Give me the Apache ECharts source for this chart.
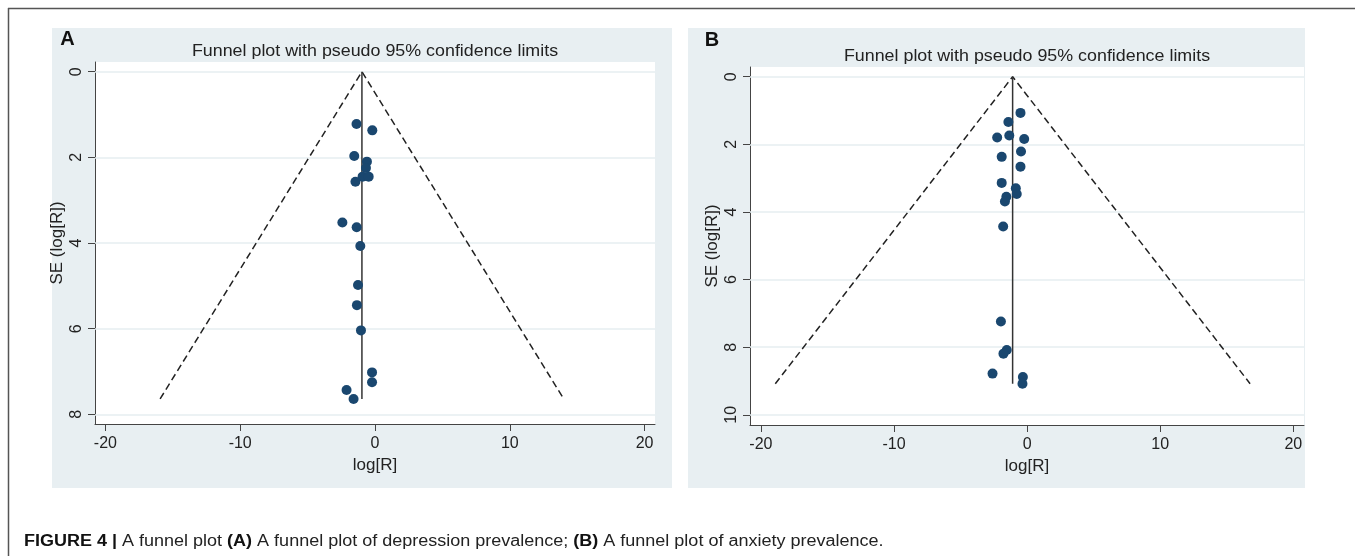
<!DOCTYPE html>
<html>
<head>
<meta charset="utf-8">
<script src="https://cdn.jsdelivr.net/npm/echarts@6/dist/echarts.min.js"></script>
<style>
html,body{margin:0;padding:0;background:#fff;}
#chart{width:1355px;height:556px;}
</style>
</head>
<body>
<div id="chart"></div>
<script>
// ---- Data ----
// Panel A: depression prevalence
const logRA = [-1.37, -0.20, -1.54, -0.60, -0.67, -0.92, -0.47, -1.45, -2.42, -1.36, -1.09, -1.26, -1.34, -1.04, -0.22, -0.22, -2.11, -1.59];
const seA   = [1.22, 1.37, 1.97, 2.10, 2.25, 2.45, 2.45, 2.57, 3.52, 3.63, 4.07, 4.98, 5.45, 6.04, 7.02, 7.25, 7.43, 7.64];
const pooledA = -0.97;      // vertical line
const seMaxA = 7.64;        // bottom of funnel
const limitA = [-15.94, 14.00]; // pseudo 95% limits at seMaxA

// Panel B: anxiety prevalence
const logRB = [-0.50, -1.41, -2.25, -1.34, -0.22, -0.46, -1.91, -0.50, -1.91, -0.85, -0.78, -1.56, -1.67, -1.80, -1.97, -1.53, -1.78, -2.60, -0.32, -0.35];
const seB   = [1.07, 1.34, 1.80, 1.74, 1.84, 2.21, 2.37, 2.66, 3.14, 3.30, 3.47, 3.55, 3.69, 4.43, 7.24, 8.08, 8.19, 8.78, 8.88, 9.08];
const pooledB = -1.09;
const seMaxB = 9.08;
const limitB = [-18.92, 16.75];

// Tick labels
const xTicks = [-20, -10, 0, 10, 20];
const yTicksA = [0, 2, 4, 6, 8];
const yTicksB = [0, 2, 4, 6, 8, 10];

// ---- Styles ----
const FONT = 'Liberation Sans, Arial, sans-serif';
const NAVY = '#1A476F';
const PANEL_BG = '#E8EFF2';
const GRID_LINE = '#E6EEF1';
const AXIS = '#444';
const TXT = '#222';

const chart = echarts.init(document.getElementById('chart'), null, {renderer: 'canvas'});

function xAxisDef(gridIndex, min, max) {
  return {
    type: 'value', gridIndex, min, max, position: 'bottom',
    name: 'log[R]', nameLocation: 'middle', nameGap: 25,
    nameTextStyle: {color: TXT, fontSize: 17, fontFamily: FONT},
    axisLine: {show: true, onZero: false, lineStyle: {color: AXIS, width: 1}},
    axisTick: {show: true, length: 7, customValues: xTicks, lineStyle: {color: AXIS}},
    axisLabel: {show: true, customValues: xTicks, margin: 12, color: TXT, fontSize: 16, fontFamily: FONT},
    splitLine: {show: false}
  };
}
function yAxisDef(gridIndex, min, max, ticks) {
  return {
    type: 'value', gridIndex, min, max, inverse: true, position: 'left',
    name: 'SE (log[R])', nameLocation: 'middle', nameGap: 29,
    nameTextStyle: {color: TXT, fontSize: 17, fontFamily: FONT},
    axisLine: {show: true, onZero: false, lineStyle: {color: AXIS, width: 1}},
    axisTick: {show: true, length: 7, customValues: ticks, lineStyle: {color: AXIS}},
    axisLabel: {show: true, customValues: ticks, rotate: 90, margin: 10, color: TXT, fontSize: 16, fontFamily: FONT},
    splitLine: {show: false}
  };
}
function gridLines(idx, ticks) {
  return {
    type: 'line', xAxisIndex: idx, yAxisIndex: idx, data: [], z: 1, silent: true,
    markLine: {
      silent: true, symbol: ['none', 'none'], animation: false, z: 1,
      label: {show: false},
      lineStyle: {type: 'solid', color: GRID_LINE, width: 1.5},
      data: ticks.map(v => ({yAxis: v}))
    }
  };
}
function funnel(idx, pooled, seMax, lim) {
  return [
    {
      type: 'line', xAxisIndex: idx, yAxisIndex: idx, z: 2, silent: true, symbol: 'none', animation: false,
      data: [[lim[0], seMax], [pooled, 0], [lim[1], seMax]],
      lineStyle: {color: '#222', width: 1.5, type: [7, 4]}
    },
    {
      type: 'line', xAxisIndex: idx, yAxisIndex: idx, z: 2, silent: true, symbol: 'none', animation: false,
      data: [[pooled, 0], [pooled, seMax]],
      lineStyle: {color: '#333', width: 1.5, type: 'solid'}
    }
  ];
}
function dots(idx, xs, ys) {
  return {
    type: 'scatter', xAxisIndex: idx, yAxisIndex: idx, z: 20, symbol: 'circle', symbolSize: 10,
    itemStyle: {color: NAVY, opacity: 1},
    data: xs.map((x, i) => [x, ys[i]]), animation: false
  };
}

const option = {
  animation: false,
  backgroundColor: '#fff',
  textStyle: {fontFamily: FONT},
  grid: [
    {left: 95, top: 62, width: 560, height: 362, show: true, backgroundColor: '#fff', borderWidth: 0, containLabel: false},
    {left: 750, top: 67, width: 554, height: 358, show: true, backgroundColor: '#fff', borderWidth: 0, containLabel: false}
  ],
  xAxis: [xAxisDef(0, -20.77, 20.77), xAxisDef(1, -20.82, 20.80)],
  yAxis: [yAxisDef(0, -0.226, 8.225, yTicksA), yAxisDef(1, -0.287, 10.3, yTicksB)],
  series: [
    gridLines(0, yTicksA),
    gridLines(1, yTicksB),
    ...funnel(0, pooledA, seMaxA, limitA),
    ...funnel(1, pooledB, seMaxB, limitB),
    dots(0, logRA, seA),
    dots(1, logRB, seB)
  ],
  graphic: [
    // panel backgrounds
    {type: 'rect', z: -10, silent: true, shape: {x: 52, y: 28, width: 620, height: 460}, style: {fill: PANEL_BG}},
    {type: 'rect', z: -10, silent: true, shape: {x: 688, y: 28, width: 617, height: 460}, style: {fill: PANEL_BG}},
    // outer frame
    {type: 'line', z: 10, silent: true, shape: {x1: 8, y1: 8.5, x2: 1355, y2: 8.5}, style: {stroke: '#555', lineWidth: 1.5}},
    {type: 'line', z: 10, silent: true, shape: {x1: 8.5, y1: 8, x2: 8.5, y2: 556}, style: {stroke: '#555', lineWidth: 1.5}},
    // panel letters
    {type: 'text', z: 10, x: 67.5, y: 39.5, style: {text: 'A', fill: '#111', font: 'bold 20px ' + FONT, textAlign: 'center', textVerticalAlign: 'middle'}},
    {type: 'text', z: 10, x: 712, y: 40, style: {text: 'B', fill: '#111', font: 'bold 20px ' + FONT, textAlign: 'center', textVerticalAlign: 'middle'}},
    // titles
    {type: 'text', z: 10, x: 375, y: 51, scaleX: 1.05, style: {text: 'Funnel plot with pseudo 95% confidence limits', fill: TXT, font: '17px ' + FONT, textAlign: 'center', textVerticalAlign: 'middle'}},
    {type: 'text', z: 10, x: 1027, y: 56, scaleX: 1.05, style: {text: 'Funnel plot with pseudo 95% confidence limits', fill: TXT, font: '17px ' + FONT, textAlign: 'center', textVerticalAlign: 'middle'}},
    // caption
    {type: 'text', z: 10, x: 24, y: 542, scaleX: 1.125, style: {
      text: '{b|FIGURE 4 |} A funnel plot {b|(A)} A funnel plot of depression prevalence; {b|(B)} A funnel plot of anxiety prevalence.',
      fill: '#222', font: '16px ' + FONT, textAlign: 'left', textVerticalAlign: 'middle',
      rich: {b: {fontWeight: 'bold', fontSize: 16, fontFamily: FONT, fill: '#111'}}
    }}
  ]
};
chart.setOption(option);
</script>
</body>
</html>
